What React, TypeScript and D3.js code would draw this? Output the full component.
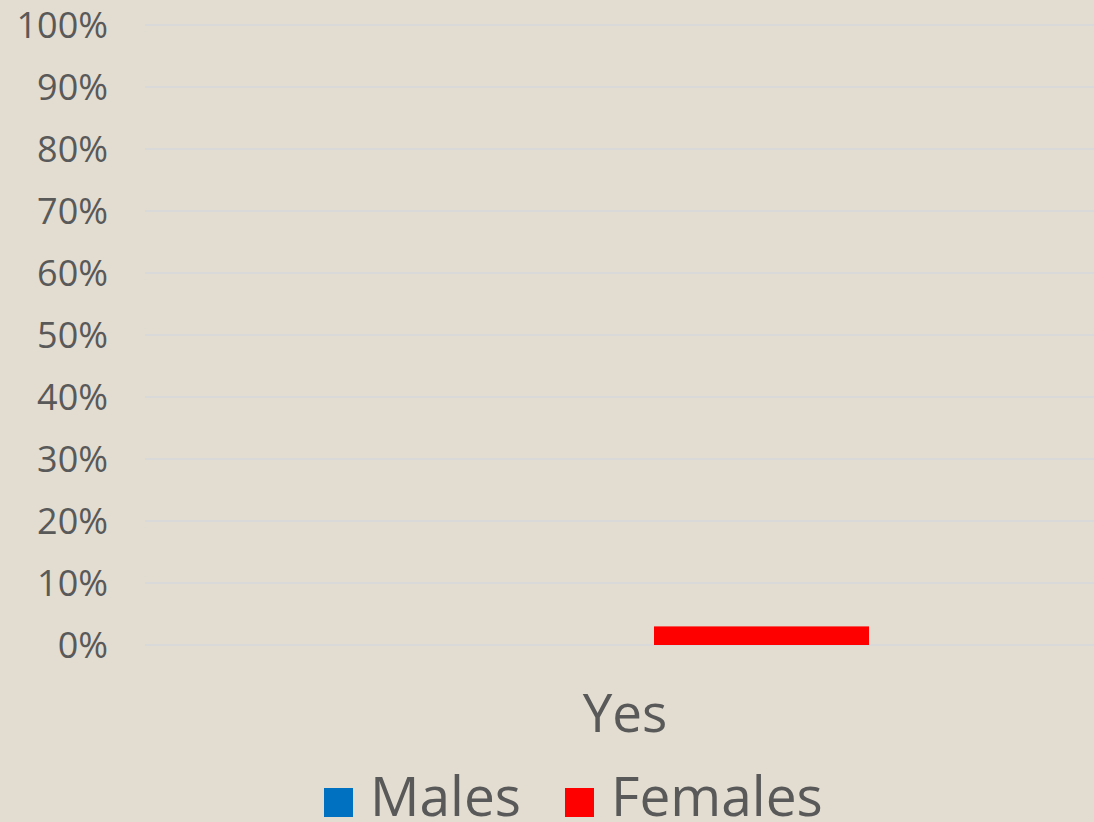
import * as d3 from "d3";

const width = 1094;
const height = 822;
const margin = { top: 25, right: -69, bottom: 177, left: 145 };

const categories = ["Yes"];
const seriesNames = ["Males", "Females"];
const males = [0];
const females = [0.03];
const colors = ["#0070C0", "#FF0000"];
const yTicks = [0, 0.1, 0.2, 0.3, 0.4, 0.5, 0.6, 0.7, 0.8, 0.9, 1];

const font = "'Open Sans', 'DejaVu Sans', sans-serif";
const textColor = "#595959";

const App = () => {
  // single category, plot area runs past the right edge of the picture
  const x = d3
    .scaleBand()
    .domain(categories)
    .range([margin.left, width - margin.right])
    .paddingInner(0.2)
    .paddingOuter(0.547);

  const xSeries = d3
    .scaleBand()
    .domain(seriesNames)
    .range([0, x.bandwidth()]);

  const y = d3
    .scaleLinear()
    .domain([0, 1])
    .range([height - margin.bottom, margin.top]);

  const values = [males, females];

  return (
    <svg
      width={width}
      height={height}
      style={{ position: "absolute", left: 0, top: 0, display: "block" }}
    >
      <rect width={width} height={height} fill="#E3DDD1" />
      {yTicks.map((t) => (
        <g key={t}>
          <line
            x1={margin.left}
            x2={width}
            y1={y(t)}
            y2={y(t)}
            stroke="#D9D9D9"
            strokeWidth={2}
          />
          <text
            x={108}
            y={y(t)}
            dy="0.36em"
            textAnchor="end"
            fontFamily={font}
            fontSize={36}
            fill={textColor}
          >
            {d3.format(".0%")(t)}
          </text>
        </g>
      ))}
      {categories.map((c, i) =>
        seriesNames.map((s, j) => {
          const v = values[j][i];
          if (!v) return null;
          return (
            <rect
              key={c + s}
              x={(x(c) ?? 0) + (xSeries(s) ?? 0)}
              y={y(v)}
              width={xSeries.bandwidth()}
              height={y(0) - y(v)}
              fill={colors[j]}
            />
          );
        })
      )}
      {categories.map((c) => (
        <text
          key={c}
          x={(x(c) ?? 0) + x.bandwidth() / 2 - 29}
          y={732}
          textAnchor="middle"
          fontFamily={font}
          fontSize={53}
          fill={textColor}
        >
          {c}
        </text>
      ))}
      {seriesNames.map((s, j) => {
        const lx = [324, 565][j];
        return (
          <g key={s}>
            <rect x={lx} y={788} width={29} height={29} fill={colors[j]} />
            <text
              x={lx + 46}
              y={816}
              fontFamily={font}
              fontSize={55}
              fill={textColor}
            >
              {s}
            </text>
          </g>
        );
      })}
    </svg>
  );
};

export default App;
